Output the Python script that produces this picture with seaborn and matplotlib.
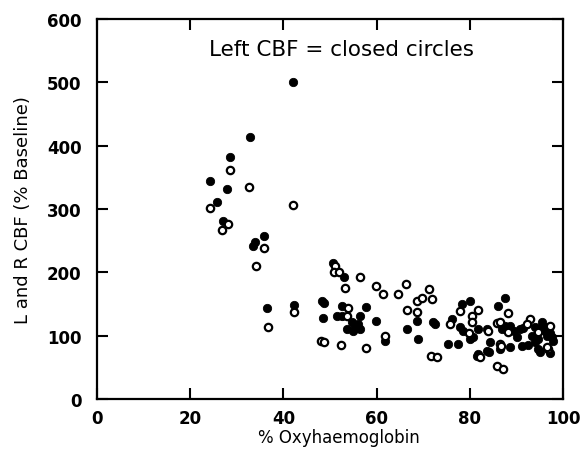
import matplotlib
matplotlib.use("Agg")
import matplotlib.pyplot as plt
import seaborn as sns
import pandas as pd

# Left CBF (closed circles)
left_x = [42.1, 32.8, 28.5, 24.3, 27.9, 25.7, 27.0, 35.8, 33.9, 33.5, 36.5, 42.3,
          50.7, 53.1, 48.3, 48.7, 52.5, 57.7, 48.5, 51.5, 52.6, 56.4, 59.9, 54.7,
          53.6, 55.4, 56.4, 56.0, 55.0, 61.8, 68.7, 66.5, 68.9, 72.0, 72.6, 76.2,
          78.3, 80.0, 77.9, 75.3, 77.5, 80.0, 80.7, 78.5, 81.8, 81.8, 83.7, 84.3,
          83.7, 86.1, 87.6, 86.9, 86.5, 88.6, 90.1, 91.2, 87.6, 88.6, 90.8, 89.5,
          91.4, 94.0, 95.5, 95.8, 93.3, 94.6, 96.6, 97.6, 97.9, 94.6, 97.2, 95.1,
          94.0, 96.1, 97.2, 81.5, 92.5, 84.1]
left_y = [500, 414, 382, 344, 331, 311, 281, 258, 248, 242, 144, 148,
          215, 192, 155, 151, 147, 145, 128, 131, 131, 131, 123, 121,
          111, 114, 111, 118, 108, 92, 123, 111, 95, 121, 118, 126,
          150, 155, 114, 87, 87, 95, 98, 107, 111, 71, 76, 90,
          111, 147, 160, 111, 79, 82, 98, 84, 115, 115, 111, 108,
          112, 114, 121, 116, 100, 95, 100, 98, 92, 79, 73, 74,
          90, 107, 105, 68, 86, 74]

# Right CBF (open circles)
right_x = [28.5, 32.6, 42.1, 24.3, 28.1, 26.8, 35.8, 34.1, 42.3, 36.7,
           51.0, 50.9, 52.0, 56.4, 53.2, 59.9, 61.4, 64.6, 66.3, 71.3,
           71.9, 53.9, 53.6, 61.8, 48.1, 48.7, 52.4, 57.7, 66.5, 68.7,
           68.7, 69.7, 71.7, 73.0, 75.8, 77.9, 80.5, 80.5, 81.8, 79.8,
           82.2, 83.9, 85.8, 86.5, 85.8, 87.1, 88.2, 92.9, 92.3, 97.2,
           96.8, 94.6, 86.5, 88.2, 86.7, 96.6]
right_y = [361, 335, 307, 302, 276, 267, 238, 210, 137, 114,
           210, 200, 200, 193, 175, 179, 166, 166, 181, 174,
           158, 144, 131, 100, 91, 90, 86, 80, 141, 138,
           155, 159, 68, 66, 118, 139, 131, 121, 141, 104,
           66, 107, 120, 87, 52, 47, 136, 126, 118, 115,
           79, 106, 121, 106, 84, 82]

x_ticks = [0, 20, 40, 60, 80, 100]
y_ticks = [0, 100, 200, 300, 400, 500, 600]

sns.set_style("ticks")
plt.rcParams['font.family'] = ['DejaVu Sans']
plt.rcParams.update({
    "xtick.direction": "in", "ytick.direction": "in",
    "xtick.top": True, "ytick.right": True,
    "xtick.major.size": 8, "ytick.major.size": 8,
    "xtick.major.width": 1.5, "ytick.major.width": 1.5,
    "xtick.major.pad": 7, "ytick.major.pad": 11,
    "xtick.labelsize": 12, "ytick.labelsize": 12,
    "xtick.color": "black", "ytick.color": "black",
    "text.color": "black", "axes.labelcolor": "black",
    "axes.edgecolor": "black",
})

fig = plt.figure(figsize=(5.8, 4.56), dpi=100)
ax = fig.add_axes([97/580, 1 - 400/456, (563-97)/580, (400-20)/456])

left_df = pd.DataFrame({"x": left_x, "y": left_y})
right_df = pd.DataFrame({"x": right_x, "y": right_y})

sns.scatterplot(data=left_df, x="x", y="y", ax=ax, s=36, color="black",
                edgecolor="black", linewidth=0.6, zorder=3)
sns.scatterplot(data=right_df, x="x", y="y", ax=ax, s=28, facecolor="white",
                edgecolor="black", linewidth=1.6, zorder=3)

ax.set_xlim(0, 100)
ax.set_ylim(0, 600)
ax.set_xticks(x_ticks)
ax.set_yticks(y_ticks)
ax.set_xticklabels([str(v) for v in x_ticks])
ax.set_yticklabels([str(v) for v in y_ticks])
for lbl in ax.get_xticklabels() + ax.get_yticklabels():
    lbl.set_fontweight("bold")
for sp in ax.spines.values():
    sp.set_visible(True)
    sp.set_linewidth(1.6)
    sp.set_color("black")

ax.set_xlabel("% Oxyhaemoglobin", fontsize=12, labelpad=1, color="black")
ax.xaxis.label.set_x(0.52)
ax.set_ylabel("L and R CBF (% Baseline)", fontsize=13, labelpad=11, color="black")
ax.text(52.5, 553, "Left CBF = closed circles", ha="center", va="center",
        fontsize=15.5, color="black")

fig.savefig("out.png", dpi=100)
